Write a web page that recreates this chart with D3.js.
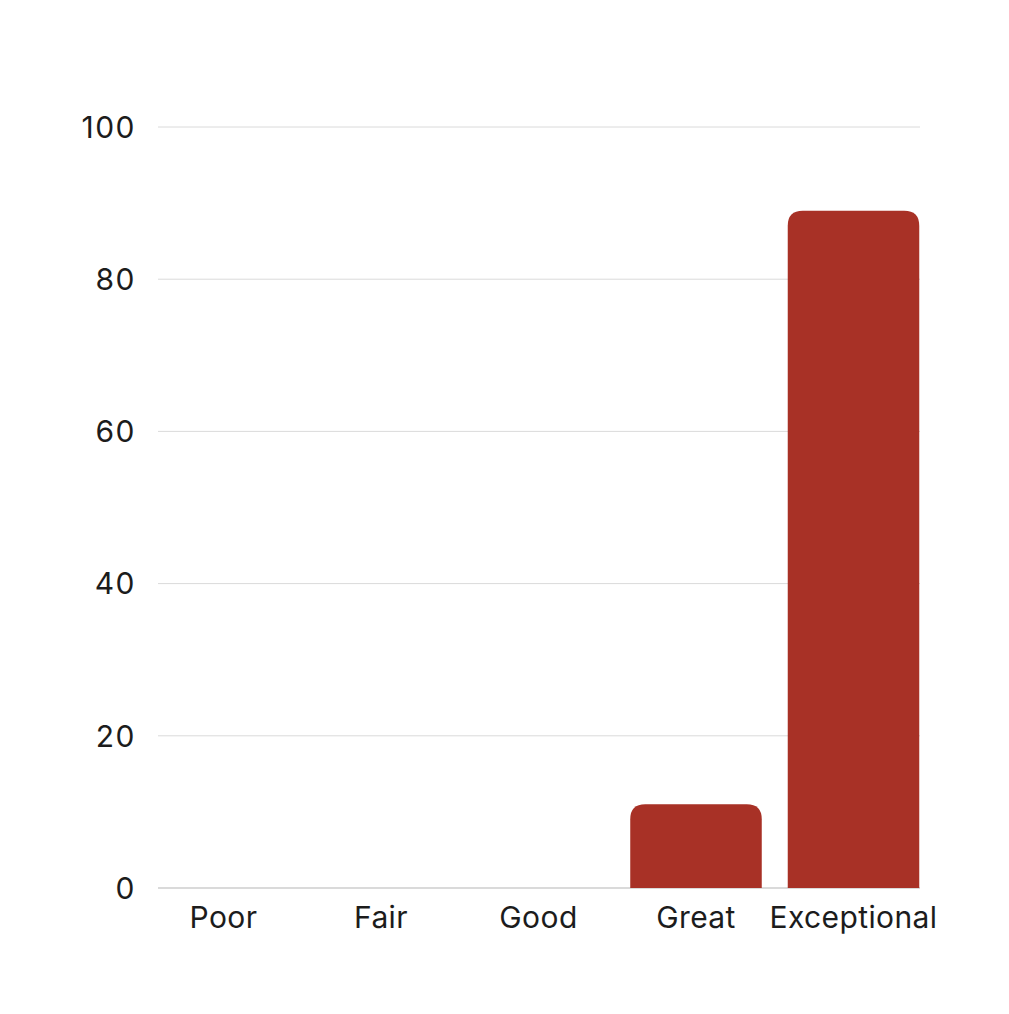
<!DOCTYPE html>
<html>
<head>
<meta charset="utf-8">
<script src="https://cdn.jsdelivr.net/npm/d3@7"></script>
<style>
  html, body { margin: 0; padding: 0; background: #ffffff; }
  svg { display: block; }
  text { font-family: Inter, "Open Sans", sans-serif; fill: #1c1c1c; }
</style>
</head>
<body>
<svg id="chart" width="1009" height="1014"></svg>
<script>
const categories = ["Poor", "Fair", "Good", "Great", "Exceptional"];
const values = [0, 0, 0, 11, 89];
const yTicks = [0, 20, 40, 60, 80, 100];

const svg = d3.select("#chart");
const W = 1009, H = 1014;
svg.append("rect").attr("width", W).attr("height", H).attr("fill", "#ffffff");

const x = d3.scaleBand().domain(categories).range([144.75, 932.25])
  .paddingInner(0.165).paddingOuter(0.0825);
const y = d3.scaleLinear().domain([0, 100]).range([888, 127]);

const gridX0 = 158, gridX1 = 920;

// gridlines
svg.append("g").selectAll("line").data(yTicks).join("line")
  .attr("x1", gridX0).attr("x2", gridX1)
  .attr("y1", d => y(d)).attr("y2", d => y(d))
  .attr("stroke", d => d === 0 ? "#b5b5b5" : "#dadada")
  .attr("stroke-width", 1);

// y tick labels
svg.append("g").selectAll("text").data(yTicks).join("text")
  .attr("x", 136).attr("y", d => y(d))
  .attr("dy", "0.36em")
  .attr("text-anchor", "end")
  .attr("font-size", 30)
  .attr("letter-spacing", 1.5)
  .text(d => d);

// bars with rounded top corners
const r = 15;
function barPath(d, i) {
  const x0 = x(categories[i]), w = x.bandwidth();
  const yb = y(0), yt = y(d);
  const h = yb - yt;
  if (h <= 0) return "";
  const rr = Math.min(r, h, w / 2);
  return `M${x0},${yb}V${yt + rr}Q${x0},${yt} ${x0 + rr},${yt}H${x0 + w - rr}Q${x0 + w},${yt} ${x0 + w},${yt + rr}V${yb}Z`;
}
svg.append("g").selectAll("path").data(values).join("path")
  .attr("d", (d, i) => barPath(d, i))
  .attr("fill", "#a83126");

// x labels
svg.append("g").selectAll("text").data(categories).join("text")
  .attr("x", d => x(d) + x.bandwidth() / 2)
  .attr("y", 928)
  .attr("text-anchor", "middle")
  .attr("font-size", 30)
  .attr("letter-spacing", 0.4)
  .text(d => d);
</script>
</body>
</html>
